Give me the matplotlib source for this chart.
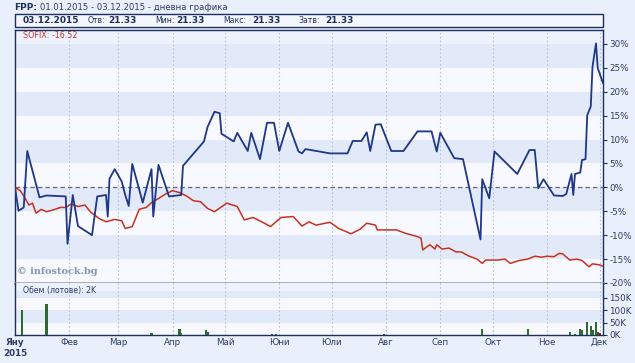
import matplotlib
matplotlib.use('Agg')
import pandas as pd
import numpy as np
from matplotlib import pyplot as plt
from matplotlib.patches import Rectangle

# FPP change vs 01.01.2015, %
fpp_dates = ['2015-01-01', '2015-01-03', '2015-01-06', '2015-01-08', '2015-01-15', '2015-01-19',
             '2015-01-30', '2015-01-31', '2015-02-03', '2015-02-06', '2015-02-14', '2015-02-17',
             '2015-02-22', '2015-02-23', '2015-02-24', '2015-02-27', '2015-03-03', '2015-03-05',
             '2015-03-07', '2015-03-09', '2015-03-15', '2015-03-20', '2015-03-21', '2015-03-24',
             '2015-03-30', '2015-04-06', '2015-04-07', '2015-04-19', '2015-04-21', '2015-04-25',
             '2015-04-28', '2015-04-29', '2015-05-06', '2015-05-08', '2015-05-14', '2015-05-16',
             '2015-05-21', '2015-05-25', '2015-05-29', '2015-06-01', '2015-06-06', '2015-06-12',
             '2015-06-14', '2015-06-16', '2015-06-30', '2015-07-10', '2015-07-13', '2015-07-18',
             '2015-07-21', '2015-07-23', '2015-07-26', '2015-07-29', '2015-08-04', '2015-08-11',
             '2015-08-19', '2015-08-27', '2015-08-30', '2015-09-01', '2015-09-09', '2015-09-14',
             '2015-09-24', '2015-09-25', '2015-09-29', '2015-10-02', '2015-10-15', '2015-10-22',
             '2015-10-25', '2015-10-27', '2015-10-30', '2015-11-05', '2015-11-10', '2015-11-12',
             '2015-11-15', '2015-11-16', '2015-11-17', '2015-11-20', '2015-11-21', '2015-11-23',
             '2015-11-24', '2015-11-26', '2015-11-27', '2015-11-29', '2015-11-30', '2015-12-01',
             '2015-12-03']
fpp_pct = [0.0, -4.9, -4.2, 7.6, -2.1, -1.7,
           -1.9, -11.8, -1.6, -8.1, -10.0, -1.9,
           -1.6, -6.1, 1.8, 3.8, 1.2, -1.6,
           -3.9, 4.9, -3.2, 3.8, -6.1, 4.7,
           -1.9, -1.6, 4.5, 9.6, 12.6, 15.8,
           15.5, 11.2, 9.6, 11.4, 7.6, 11.4,
           5.9, 13.5, 13.5, 7.6, 13.5, 7.5,
           7.1, 8.0, 7.1, 7.1, 9.7, 9.7,
           11.5, 7.6, 13.1, 13.2, 7.6, 7.6,
           11.7, 11.7, 7.5, 11.4, 6.1, 5.9,
           -10.9, 1.7, -2.3, 7.5, 2.8, 7.8,
           7.8, -0.2, 1.7, -1.7, -1.8, -1.4,
           2.8, -1.6, 2.8, 3.1, 5.7, 5.9,
           15.1, 16.9, 25.2, 30.1, 24.9, 23.9,
           21.8]

# SOFIX change, %
sofix_dates = ['2015-01-01', '2015-01-04', '2015-01-06', '2015-01-09', '2015-01-11', '2015-01-13',
               '2015-01-16', '2015-01-19', '2015-01-23', '2015-01-27', '2015-01-30', '2015-02-02',
               '2015-02-06', '2015-02-10', '2015-02-13', '2015-02-18', '2015-02-22', '2015-02-27',
               '2015-03-03', '2015-03-05', '2015-03-09', '2015-03-13', '2015-03-17', '2015-03-20',
               '2015-03-25', '2015-03-28', '2015-04-01', '2015-04-05', '2015-04-09', '2015-04-13',
               '2015-04-17', '2015-04-21', '2015-04-25', '2015-05-02', '2015-05-08', '2015-05-12',
               '2015-05-17', '2015-05-22', '2015-05-27', '2015-06-02', '2015-06-09', '2015-06-14',
               '2015-06-18', '2015-06-22', '2015-06-30', '2015-07-05', '2015-07-12', '2015-07-17',
               '2015-07-21', '2015-07-26', '2015-07-27', '2015-08-07', '2015-08-12', '2015-08-19',
               '2015-08-21', '2015-08-22', '2015-08-26', '2015-08-29', '2015-08-30', '2015-09-02',
               '2015-09-06', '2015-09-10', '2015-09-13', '2015-09-17', '2015-09-22', '2015-09-25',
               '2015-09-27', '2015-10-04', '2015-10-08', '2015-10-11', '2015-10-16', '2015-10-21',
               '2015-10-25', '2015-10-29', '2015-11-01', '2015-11-05', '2015-11-08', '2015-11-10',
               '2015-11-14', '2015-11-18', '2015-11-21', '2015-11-25', '2015-11-27', '2015-12-01',
               '2015-12-03']
sofix_pct = [0.0, -0.7, -1.8, -3.7, -3.3, -5.4,
             -4.6, -5.1, -4.7, -4.2, -4.2, -3.5,
             -4.0, -3.7, -5.1, -6.5, -7.2, -6.7,
             -7.0, -8.6, -8.2, -4.6, -4.2, -3.2,
             -2.1, -1.4, -0.7, -1.1, -1.8, -2.8,
             -3.0, -4.4, -5.1, -3.3, -4.0, -6.8,
             -6.3, -7.2, -8.2, -6.3, -6.1, -8.1,
             -7.2, -7.9, -7.3, -8.6, -9.7, -8.8,
             -7.5, -7.9, -8.9, -8.9, -9.6, -10.3,
             -10.6, -13.1, -12.0, -12.9, -12.0, -12.9,
             -12.7, -13.5, -13.5, -14.3, -15.0, -15.9,
             -15.2, -15.2, -15.0, -15.9, -15.3, -15.0,
             -14.4, -14.6, -14.4, -14.5, -13.8, -13.9,
             -15.2, -15.0, -15.3, -16.6, -16.0, -16.2,
             -16.5]

# volume, thousands of lots
vol_dates = ['2015-01-03', '2015-01-05', '2015-01-15', '2015-01-19', '2015-01-31', '2015-02-03',
             '2015-02-24', '2015-03-01', '2015-03-04', '2015-03-07', '2015-03-20', '2015-04-05',
             '2015-04-06', '2015-04-20', '2015-04-21', '2015-04-25', '2015-05-03', '2015-05-06',
             '2015-05-13', '2015-05-16', '2015-05-20', '2015-05-24', '2015-05-28', '2015-05-30',
             '2015-06-06', '2015-06-14', '2015-06-30', '2015-07-10', '2015-07-20', '2015-07-22',
             '2015-07-25', '2015-07-31', '2015-09-07', '2015-09-09', '2015-09-11', '2015-09-14',
             '2015-09-25', '2015-09-26', '2015-10-21', '2015-11-04', '2015-11-10', '2015-11-14',
             '2015-11-17', '2015-11-20', '2015-11-21', '2015-11-24', '2015-11-26', '2015-11-27',
             '2015-11-29', '2015-11-30', '2015-12-01']
vol_k = [2, 100, 2, 124, 2, 2,
         2, 2, 2, 2, 9, 24,
         7, 19, 12, 2, 2, 2,
         2, 2, 2, 2, 3, 3,
         2, 2, 2, 2, 2, 2,
         2, 4, 2, 2, 2, 2,
         23, 2, 24, 2, 2, 11,
         3, 23, 19, 51, 36, 19,
         53, 14, 9]
vol_up = [1, 1, 1, 1, 1, 1,
          1, 1, 1, 1, 1, 1,
          1, 1, 1, 1, 1, 1,
          1, 1, 1, 1, 1, 1,
          1, 1, 1, 1, 1, 1,
          1, 0, 0, 1, 0, 1,
          1, 1, 1, 1, 1, 1,
          1, 1, 1, 1, 1, 1,
          1, 1, 0]

month_labels = ['Яну\n2015', 'Фев', 'Мар', 'Апр', 'Май', 'Юни', 'Юли', 'Авг', 'Сеп', 'Окт', 'Ное', 'Дек']
pct_ticks = [-20, -15, -10, -5, 0, 5, 10, 15, 20, 25, 30]
vol_ticks = [0, 50, 100, 150]

bg = '#eaf0fb'
band_blue = '#e2eafa'
band_white = '#f7f9fe'
navy = '#1c2f5e'
txt = '#2c3c66'

W, H = 635, 363
def fx(px):
    return px / W
def fy(py):
    return 1 - py / H

fig = plt.figure(figsize=(6.35, 3.63), dpi=100, facecolor=bg)
ax = fig.add_axes([fx(15), fy(283), (603 - 15) / W, (283 - 30) / H])
vax = fig.add_axes([fx(15), fy(335), (603 - 15) / W, (335 - 283) / H], sharex=ax)

fd = pd.to_datetime(fpp_dates)
sd = pd.to_datetime(sofix_dates)
vd = pd.to_datetime(vol_dates)
months = pd.date_range('2015-01-01', '2015-12-01', freq='MS')
x0, x1 = pd.Timestamp('2015-01-01'), pd.Timestamp('2015-12-03')

# main panel
for lo in range(-20, 35, 5):
    c = band_blue if (lo // 5) % 2 else band_white
    if lo >= 30:
        c = '#edf2fc'
    ax.axhspan(lo, lo + 5, color=c, lw=0, zorder=0)
for m in months[1:]:
    ax.axvline(m, color='#b8c2de', lw=0.8, ls=(0, (1.5, 2)), zorder=1)
    vax.axvline(m, color='#b8c2de', lw=0.8, ls=(0, (1.5, 2)), zorder=1)
ax.axhline(0, color='#5f6778', lw=0.9, ls=(0, (3.5, 2.5)), zorder=2)
ax.plot(sd, sofix_pct, color='#c8321c', lw=1.1, zorder=3)
ax.plot(fd, fpp_pct, color='#1f3784', lw=1.3, zorder=4)

ax.set_xlim(x0, x1)
ax.set_ylim(-20, 32.9)
ax.yaxis.tick_right()
ax.set_yticks(pct_ticks)
ax.set_yticklabels([f'{v}%' for v in pct_ticks])
ax.tick_params(axis='y', length=3, width=0.8, color=navy, labelsize=6.3, labelcolor=txt, pad=1.5)
ax.tick_params(axis='x', length=0, labelbottom=False)
ax.set_facecolor(band_white)
for s in ['left', 'right', 'top']:
    ax.spines[s].set_color(navy)
    ax.spines[s].set_linewidth(1.0)
ax.spines['bottom'].set_color('#8d9bb2')
ax.spines['bottom'].set_linewidth(1.8)

# volume panel
for lo in range(0, 210, 50):
    c = band_blue if (lo // 50) % 2 else band_white
    vax.axhspan(lo, lo + 50, color=c, lw=0, zorder=0)
vax.axhspan(175, 210, color='#edf2fc', lw=0, zorder=0)
vcol = ['#2f6b2c' if u else '#8b1a1a' for u in vol_up]
vax.bar(vd, vol_k, width=1.3, color=vcol, zorder=3)
vax.set_ylim(0, 208)
vax.yaxis.tick_right()
vax.set_yticks(vol_ticks)
vax.set_yticklabels([f'{v}K' for v in vol_ticks])
vax.tick_params(axis='y', length=3, width=0.8, color=navy, labelsize=6.3, labelcolor=txt, pad=1.5)
vax.set_xticks(months)
vax.set_xticklabels(month_labels)
vax.tick_params(axis='x', length=0, labelsize=6.3, labelcolor=txt, pad=2)
vax.get_xticklabels()[0].set_fontweight('bold')
vax.get_xticklabels()[0].set_linespacing(1.3)
for s in ['left', 'right', 'bottom']:
    vax.spines[s].set_color(navy)
    vax.spines[s].set_linewidth(1.0)
vax.spines['top'].set_visible(False)

# header
fig.text(fx(14), fy(8), 'FPP:', fontsize=6.5, fontweight='bold', color=navy, va='center')
fig.text(fx(40), fy(8), '01.01.2015 - 03.12.2015 - дневна графика', fontsize=6.1, color=txt, va='center')
fig.patches.append(Rectangle((fx(15), fy(27)), (603 - 15) / W, 13 / H, transform=fig.transFigure,
                             facecolor='#f4f7fd', edgecolor=navy, lw=1.0))
hdr = [(23, '03.12.2015', True), (88, 'Отв:', False), (108, '21.33', True),
       (155, 'Мин:', False), (176, '21.33', True), (223, 'Макс:', False),
       (252, '21.33', True), (298, 'Затв:', False), (325, '21.33', True)]
for px, s, b in hdr:
    fig.text(fx(px), fy(20.5), s, fontsize=6.5 if b else 5.6, color=navy,
             fontweight='bold' if b else 'normal', va='center')

fig.text(fx(23), fy(36), 'SOFIX: -16.52', fontsize=5.8, color='#c0392b', va='center')
fig.text(fx(17), fy(272), '© infostock.bg', fontsize=7, color='#8593ad', family='DejaVu Serif',
         fontweight='bold', va='center')
fig.text(fx(23), fy(290), 'Обем (лотове): 2K', fontsize=5.6, color=txt, va='center')

fig.savefig('out.png', dpi=100, facecolor=bg)
